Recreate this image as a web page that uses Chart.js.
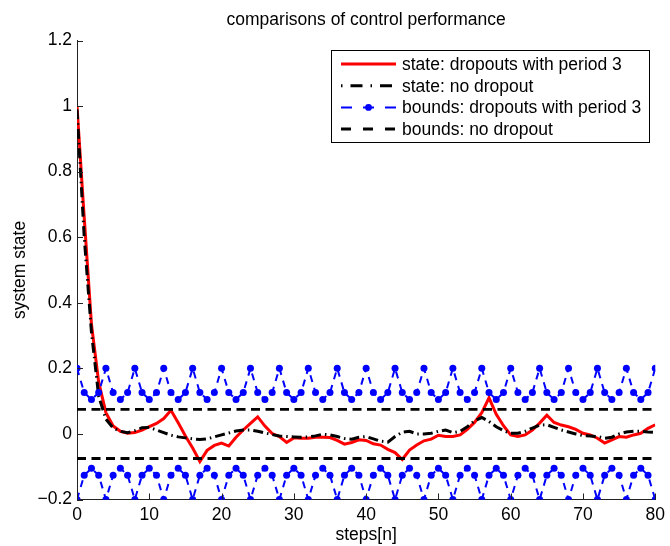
<!DOCTYPE html>
<html>
<head>
<meta charset="utf-8">
<script src="https://cdn.jsdelivr.net/npm/chart.js@4/dist/chart.umd.min.js"></script>
<style>
  html, body { margin: 0; padding: 0; background: #fff; }
  #wrap { width: 670px; height: 546px; }
</style>
</head>
<body>
<div id="wrap"><canvas id="c" width="670" height="546"></canvas></div>
<script>
// time steps n = 0 .. 80
const steps = Array.from({ length: 81 }, (_, i) => i);

// system state with dropouts of period 3
const stateDropout = [
  1.0, 0.66, 0.335, 0.158, 0.065, 0.024, 0.008, 0.002, 0.004, 0.012,
  0.022, 0.032, 0.047, 0.072, 0.034, -0.006, -0.043, -0.084, -0.050, -0.035,
  -0.028, -0.037, -0.010, 0.012, 0.032, 0.052, 0.024, 0.001, -0.008, -0.026,
  -0.012, -0.013, -0.013, -0.010, -0.010, -0.011, -0.020, -0.031, -0.026, -0.018,
  -0.020, -0.030, -0.034, -0.047, -0.057, -0.078, -0.049, -0.034, -0.021, -0.016,
  -0.004, -0.008, -0.008, -0.003, 0.014, 0.035, 0.065, 0.110, 0.060, 0.025,
  -0.003, -0.008, -0.003, 0.012, 0.033, 0.057, 0.035, 0.027, 0.022, 0.014,
  0.002, -0.003, -0.013, -0.028, -0.018, -0.008, -0.010, -0.003, 0.002, 0.017,
  0.028
];

// system state without dropout
const stateNoDropout = [
  0.99, 0.60, 0.31, 0.115, 0.045, 0.018, 0.008, 0.004, 0.010, 0.019,
  0.020, 0.012, 0.004, -0.004, -0.009, -0.012, -0.015, -0.017, -0.015, -0.009,
  -0.003, 0.003, 0.009, 0.012, 0.012, 0.008, 0.003, -0.002, -0.006, -0.008,
  -0.009, -0.010, -0.009, -0.006, -0.001, -0.003, -0.008, -0.014, -0.016, -0.010,
  -0.008, -0.015, -0.022, -0.025, -0.008, 0.005, 0.008, 0.000, 0.000, 0.002,
  0.008, 0.012, 0.004, 0.008, 0.022, 0.040, 0.050, 0.038, 0.022, 0.010,
  0.002, 0.002, 0.008, 0.018, 0.027, 0.028, 0.020, 0.012, 0.006, 0.000,
  -0.005, -0.006, -0.008, -0.013, -0.010, 0.000, 0.006, 0.008, 0.008, 0.006,
  0.005
];

// bounds with dropouts of period 3
const boundsDropoutUpper = [
  0.2, 0.126, 0.105, 0.126, 0.2, 0.126, 0.105, 0.126, 0.2, 0.126,
  0.105, 0.126, 0.2, 0.126, 0.105, 0.126, 0.2, 0.126, 0.105, 0.126,
  0.2, 0.126, 0.105, 0.126, 0.2, 0.126, 0.105, 0.126, 0.2, 0.126,
  0.105, 0.126, 0.2, 0.126, 0.105, 0.126, 0.2, 0.126, 0.105, 0.126,
  0.2, 0.126, 0.105, 0.126, 0.2, 0.126, 0.105, 0.126, 0.2, 0.126,
  0.105, 0.126, 0.2, 0.126, 0.105, 0.126, 0.2, 0.126, 0.105, 0.126,
  0.2, 0.126, 0.105, 0.126, 0.2, 0.126, 0.105, 0.126, 0.2, 0.126,
  0.105, 0.126, 0.2, 0.126, 0.105, 0.126, 0.2, 0.126, 0.105, 0.126,
  0.2
];
const boundsDropoutLower = [
  -0.2, -0.126, -0.105, -0.126, -0.2, -0.126, -0.105, -0.126, -0.2, -0.126,
  -0.105, -0.126, -0.2, -0.126, -0.105, -0.126, -0.2, -0.126, -0.105, -0.126,
  -0.2, -0.126, -0.105, -0.126, -0.2, -0.126, -0.105, -0.126, -0.2, -0.126,
  -0.105, -0.126, -0.2, -0.126, -0.105, -0.126, -0.2, -0.126, -0.105, -0.126,
  -0.2, -0.126, -0.105, -0.126, -0.2, -0.126, -0.105, -0.126, -0.2, -0.126,
  -0.105, -0.126, -0.2, -0.126, -0.105, -0.126, -0.2, -0.126, -0.105, -0.126,
  -0.2, -0.126, -0.105, -0.126, -0.2, -0.126, -0.105, -0.126, -0.2, -0.126,
  -0.105, -0.126, -0.2, -0.126, -0.105, -0.126, -0.2, -0.126, -0.105, -0.126,
  -0.2
];

// constant bounds without dropout
const boundNoDropout = 0.075;
const boundRange = [0, 80];

// axis ticks
const xTicks = [0, 10, 20, 30, 40, 50, 60, 70, 80];
const yTicks = [-0.2, 0, 0.2, 0.4, 0.6, 0.8, 1, 1.2];

const FONT = "'Liberation Sans', Arial, Helvetica, sans-serif";
const FS = 17.5;

const pts = arr => arr.map((v, i) => ({ x: steps[i], y: v }));
const flat = v => boundRange.map(x => ({ x, y: v }));

const legendItems = [
  { label: 'state: dropouts with period 3', color: '#ff0000', width: 3, dash: [] },
  { label: 'state: no dropout', color: '#000000', width: 3, dash: [1.5, 8, 12, 8] },
  { label: 'bounds: dropouts with period 3', color: '#0000ff', width: 2, dash: [11, 11], marker: true },
  { label: 'bounds: no dropout', color: '#000000', width: 3, dash: [10, 12] }
];

// inward tick marks and the boxed legend
const axesDecor = {
  id: 'axesDecor',
  afterDraw(chart) {
    const { ctx, chartArea: a, scales: { x, y } } = chart;
    ctx.save();
    ctx.strokeStyle = '#222';
    ctx.lineWidth = 1;
    ctx.beginPath();
    xTicks.forEach(t => {
      const px = Math.round(x.getPixelForValue(t)) + 0.5;
      ctx.moveTo(px, a.bottom);
      ctx.lineTo(px, a.bottom - 6);
    });
    yTicks.forEach(t => {
      const py = Math.round(y.getPixelForValue(t)) + 0.5;
      ctx.moveTo(a.left, py);
      ctx.lineTo(a.left + 6, py);
    });
    ctx.stroke();

    // legend box
    const bx = 331.5, by = 50.5, bw = 318, bh = 92;
    ctx.fillStyle = '#fff';
    ctx.fillRect(bx, by, bw, bh);
    ctx.strokeStyle = '#000';
    ctx.lineWidth = 1;
    ctx.strokeRect(bx, by, bw, bh);
    ctx.font = FS + 'px ' + FONT;
    ctx.textBaseline = 'middle';
    ctx.textAlign = 'left';
    legendItems.forEach((it, i) => {
      const ly = 64 + i * 21.7;
      ctx.strokeStyle = it.color;
      ctx.lineWidth = it.width;
      ctx.setLineDash(it.dash);
      ctx.lineCap = 'butt';
      ctx.beginPath();
      ctx.moveTo(341, ly);
      ctx.lineTo(396, ly);
      ctx.stroke();
      ctx.setLineDash([]);
      if (it.marker) {
        ctx.fillStyle = it.color;
        ctx.beginPath();
        ctx.arc(368.5, ly, 3.4, 0, Math.PI * 2);
        ctx.fill();
      }
      ctx.fillStyle = '#000';
      ctx.fillText(it.label, 402, ly + 1);
    });
    ctx.restore();
  }
};

const lineDefaults = { tension: 0, pointRadius: 0, fill: false, clip: 0 };

new Chart(document.getElementById('c'), {
  type: 'line',
  data: {
    datasets: [
      Object.assign({ label: 'bounds: no dropout', data: flat(boundNoDropout),
        borderColor: '#000', borderWidth: 2.8, borderDash: [9, 5.5] }, lineDefaults),
      Object.assign({ label: 'bounds: no dropout (lower)', data: flat(-boundNoDropout),
        borderColor: '#000', borderWidth: 2.8, borderDash: [9, 5.5] }, lineDefaults),
      Object.assign({}, lineDefaults, { label: 'bounds: dropouts with period 3', data: pts(boundsDropoutUpper),
        borderColor: '#0000ff', borderWidth: 2, borderDash: [7, 6],
        pointRadius: 3.5, pointBackgroundColor: '#0000ff', pointBorderWidth: 0 }),
      Object.assign({}, lineDefaults, { label: 'bounds: dropouts with period 3 (lower)', data: pts(boundsDropoutLower),
        borderColor: '#0000ff', borderWidth: 2, borderDash: [7, 6],
        pointRadius: 3.5, pointBackgroundColor: '#0000ff', pointBorderWidth: 0 }),
      Object.assign({ label: 'state: no dropout', data: pts(stateNoDropout),
        borderColor: '#000', borderWidth: 3, borderDash: [10, 4, 1.5, 4] }, lineDefaults),
      Object.assign({ label: 'state: dropouts with period 3', data: pts(stateDropout),
        borderColor: '#ff0000', borderWidth: 3 }, lineDefaults)
    ]
  },
  options: {
    responsive: false,
    animation: false,
    events: [],
    layout: { padding: { left: 0, right: 12, top: 0, bottom: 0 } },
    plugins: {
      legend: { display: false },
      tooltip: { enabled: false },
      title: {
        display: true,
        text: 'comparisons of control performance',
        fullSize: false,
        color: '#000',
        font: { family: FONT, size: FS, weight: 'normal', lineHeight: 1.2 },
        padding: { top: 10, bottom: 9.5 }
      }
    },
    scales: {
      x: {
        type: 'linear',
        min: 0, max: 80,
        afterFit(s) { s.height = 46.5; },
        afterBuildTicks(s) { s.ticks = xTicks.map(v => ({ value: v })); },
        grid: { display: false, drawTicks: false },
        border: { display: true, color: '#222', width: 1 },
        ticks: { color: '#000', padding: 5, maxRotation: 0, font: { family: FONT, size: FS } },
        title: { display: true, text: 'steps[n]', color: '#000',
          font: { family: FONT, size: FS, lineHeight: 1.2 }, padding: { top: 8, bottom: 0 } }
      },
      y: {
        type: 'linear',
        min: -0.2, max: 1.2,
        afterFit(s) { s.width = 77; },
        afterBuildTicks(s) { s.ticks = yTicks.map(v => ({ value: v })); },
        grid: { display: false, drawTicks: false },
        border: { display: true, color: '#222', width: 1 },
        ticks: {
          color: '#000', padding: 5, font: { family: FONT, size: FS },
          callback: v => {
            const r = Math.round(v * 10) / 10;
            return r < 0 ? '\u2212' + Math.abs(r) : String(r);
          }
        },
        title: { display: true, text: 'system state', color: '#000',
          font: { family: FONT, size: FS, lineHeight: 1.2 }, padding: { top: 9.5, bottom: 0 } }
      }
    }
  },
  plugins: [axesDecor]
});
</script>
</body>
</html>
